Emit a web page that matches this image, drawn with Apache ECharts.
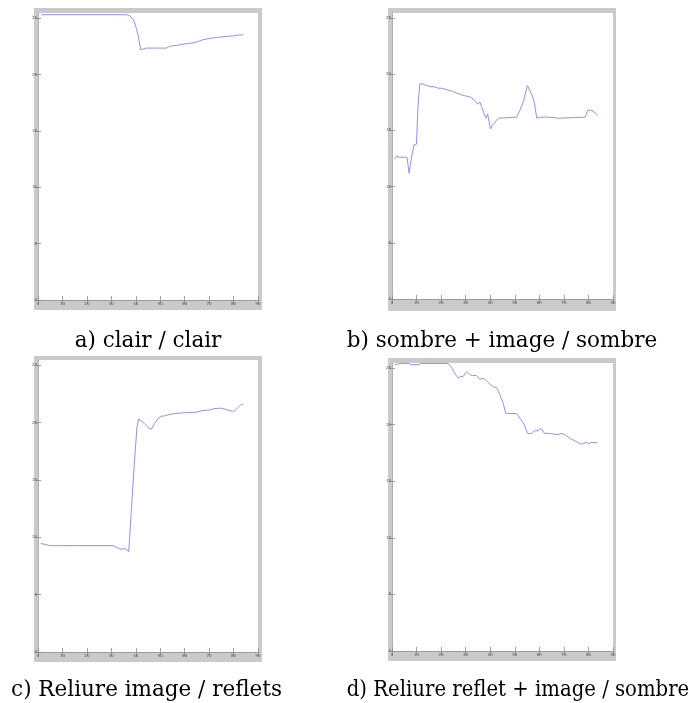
<!DOCTYPE html>
<html>
<head>
<meta charset="utf-8">
<script src="https://cdn.jsdelivr.net/npm/echarts@6/dist/echarts.min.js"></script>
<style>
  html, body { margin: 0; padding: 0; background: #fff; }
  #chart { width: 689px; height: 703px; }
</style>
</head>
<body>
<div id="chart"></div>
<script>
// Shared axis ticks
const xTicks = [0, 10, 20, 30, 40, 50, 60, 70, 80, 90];
const yTicks = [0, 5, 10, 15, 20, 25];

// a) clair / clair
const aX = [1.4, 36.1, 37.5, 39.1, 40.2, 40.9, 42.0, 42.7, 44.3, 52.5, 53.9, 56.6, 59.3, 62.0, 64.8, 67.5, 70.2, 73.0, 75.7, 78.4, 80.5, 81.8, 83.9];
const aY = [25.30, 25.30, 25.21, 24.85, 24.11, 23.52, 22.19, 22.34, 22.34, 22.34, 22.51, 22.57, 22.69, 22.75, 22.87, 23.08, 23.20, 23.28, 23.34, 23.40, 23.43, 23.49, 23.52];

// b) sombre + image / sombre
const bX = [1.09, 2.04, 3.13, 4.49, 6.13, 6.94, 7.90, 8.99, 9.94, 10.62, 11.30, 12.66, 14.03, 15.39, 17.43, 18.79, 20.15, 21.51, 22.88, 24.24, 24.92, 26.28, 27.64, 29.00, 30.37, 31.73, 33.09, 34.04, 34.86, 35.81, 36.49, 37.58, 38.26, 38.94, 39.49, 40.17, 40.85, 41.94, 43.30, 43.98, 50.79, 52.15, 53.51, 55.15, 56.92, 57.87, 58.96, 60.32, 63.73, 64.41, 67.81, 68.49, 78.70, 79.79, 81.43, 82.84, 83.74];
const bY = [12.44, 12.74, 12.59, 12.62, 12.62, 11.19, 12.53, 13.72, 13.78, 17.28, 19.15, 19.12, 19.00, 18.91, 18.88, 18.76, 18.76, 18.68, 18.59, 18.53, 18.38, 18.32, 18.23, 18.11, 18.05, 17.99, 17.81, 17.58, 17.34, 17.52, 17.13, 16.45, 16.09, 16.48, 15.80, 15.14, 15.44, 15.74, 16.09, 16.18, 16.18, 16.83, 17.58, 19.00, 18.17, 17.58, 16.09, 16.18, 16.18, 16.09, 16.09, 16.18, 16.18, 16.80, 16.80, 16.53, 16.34];

// c) Reliure image / reflets
const cX = [1.09, 2.73, 4.77, 7.5, 17.05, 30.7, 31.4, 32.3, 33.1, 34.1, 35.0, 36.1, 37.1, 38.2, 39.5, 40.5, 41.2, 42.0, 43.6, 45.0, 46.4, 47.7, 49.1, 50.5, 51.8, 53.2, 54.5, 55.5, 57.3, 60.7, 64.8, 66.8, 70.2, 72.3, 75.0, 77.0, 80.0, 81.4, 82.8, 83.9];
const cY = [9.45, 9.39, 9.27, 9.27, 9.27, 9.27, 9.16, 9.10, 9.24, 8.95, 9.01, 8.98, 8.72, 12.35, 16.72, 19.62, 20.29, 20.32, 19.91, 19.56, 19.42, 19.91, 20.35, 20.55, 20.58, 20.67, 20.73, 20.78, 20.81, 20.87, 20.90, 21.02, 21.10, 21.22, 21.25, 21.13, 20.96, 21.22, 21.51, 21.60];

// d) Reliure reflet + image / sombre
const dX = [1.09, 2.45, 3.81, 6.54, 7.90, 10.62, 11.98, 22.88, 24.24, 25.60, 26.96, 28.05, 29.00, 30.37, 31.73, 32.68, 34.45, 35.81, 37.17, 38.53, 39.90, 41.26, 42.62, 43.98, 45.34, 46.30, 47.39, 50.79, 52.15, 53.78, 55.15, 56.92, 57.87, 59.64, 60.73, 62.09, 64.41, 65.09, 66.45, 67.81, 69.17, 70.53, 72.57, 74.62, 76.66, 78.02, 78.98, 80.07, 81.16, 83.74];
const dY = [25.30, 25.36, 25.41, 25.41, 25.30, 25.30, 25.41, 25.41, 25.06, 24.53, 24.11, 24.26, 24.26, 24.70, 24.41, 24.35, 24.35, 24.02, 24.11, 23.88, 23.58, 23.34, 23.28, 22.63, 21.86, 20.98, 20.98, 20.98, 20.56, 20.03, 19.23, 19.23, 19.44, 19.50, 19.67, 19.23, 19.23, 19.29, 19.14, 19.14, 19.23, 19.08, 18.79, 18.55, 18.31, 18.31, 18.46, 18.31, 18.43, 18.40];

const captions = ['a) clair / clair', 'b) sombre + image / sombre', 'c) Reliure image / reflets', 'd) Reliure reflet + image / sombre'];

// Panel geometry: grey figure frame and white axes box (pixels); capSx squeezes a long caption
const panels = [
  { frame: [34, 8, 228, 302], box: [38, 13, 220, 287], cap: [148, 341], capSx: 1, xs: aX, ys: aY },
  { frame: [388, 8, 228, 303], box: [392, 13, 221, 286], cap: [502, 341], capSx: 1, xs: bX, ys: bY },
  { frame: [34, 356, 228, 306], box: [38, 360, 220, 292], cap: [146.5, 690], capSx: 1, xs: cX, ys: cY },
  { frame: [388, 358, 228, 303], box: [392, 363, 221, 288], cap: [518, 690], capSx: 0.915, xs: dX, ys: dY }
];

const FRAME = '#cacaca';
const TICK = '#8a8a8a';
const LINE = '#9090ff';

const grids = [], xAxes = [], yAxes = [], series = [], graphics = [];

panels.forEach((p, i) => {
  const [fx, fy, fw, fh] = p.frame;
  const [bx, by, bw, bh] = p.box;
  // frame as four strips around the axes box
  graphics.push({ type: 'rect', z: -10, shape: { x: fx, y: fy, width: fw, height: by - fy }, style: { fill: FRAME } });
  graphics.push({ type: 'rect', z: -10, shape: { x: fx, y: by + bh, width: fw, height: fy + fh - by - bh }, style: { fill: FRAME } });
  graphics.push({ type: 'rect', z: -10, shape: { x: fx, y: by, width: bx - fx, height: bh }, style: { fill: FRAME } });
  graphics.push({ type: 'rect', z: -10, shape: { x: bx + bw, y: by, width: fx + fw - bx - bw, height: bh }, style: { fill: FRAME } });
  graphics.push({
    type: 'text', z: 10,
    x: p.cap[0], y: p.cap[1], scaleX: p.capSx, scaleY: 1,
    style: {
      text: captions[i], x: 0, y: 0,
      font: '21.5px "DejaVu Serif", serif', fill: '#000',
      textAlign: 'center', textVerticalAlign: 'middle'
    }
  });

  grids.push({ left: bx, top: by, width: bw, height: bh, show: true, backgroundColor: '#fff', borderWidth: 0 });

  const xBase = {
    type: 'value', gridIndex: i, min: 0, max: 90, interval: 10,
    splitLine: { show: false },
    axisTick: { inside: true, length: 4, lineStyle: { color: TICK, width: 0.8 } }
  };
  xAxes.push(Object.assign({}, xBase, {
    position: 'bottom',
    axisLine: { show: true, lineStyle: { color: '#9a9a9a', width: 1 } },
    axisLabel: { show: true, margin: 2, fontSize: 4, color: '#555', fontFamily: 'DejaVu Sans', formatter: v => String(v) }
  }));
  xAxes.push(Object.assign({}, xBase, {
    position: 'top',
    axisLine: { show: false },
    axisLabel: { show: false }
  }));

  const yBase = {
    type: 'value', gridIndex: i, min: 0, max: 25.45,
    splitLine: { show: false },
    axisTick: { inside: true, length: 3, customValues: yTicks, lineStyle: { color: TICK, width: 0.8 } }
  };
  yAxes.push(Object.assign({}, yBase, {
    position: 'left',
    axisLine: { show: true, lineStyle: { color: '#b0b0b0', width: 1 } },
    axisLabel: { show: true, margin: 1, fontSize: 4, color: '#555', fontFamily: 'DejaVu Sans', customValues: yTicks }
  }));
  yAxes.push(Object.assign({}, yBase, {
    position: 'right',
    axisLine: { show: false },
    axisLabel: { show: false }
  }));

  series.push({
    type: 'line',
    xAxisIndex: i * 2, yAxisIndex: i * 2,
    data: p.xs.map((x, k) => [x, p.ys[k]]),
    showSymbol: false, symbol: 'none',
    lineStyle: { color: LINE, width: 1 },
    animation: false,
    z: 3
  });
});

const chart = echarts.init(document.getElementById('chart'), null, { renderer: 'canvas' });
chart.setOption({
  animation: false,
  backgroundColor: '#fff',
  grid: grids,
  xAxis: xAxes,
  yAxis: yAxes,
  series: series,
  graphic: { elements: graphics }
});
</script>
</body>
</html>
